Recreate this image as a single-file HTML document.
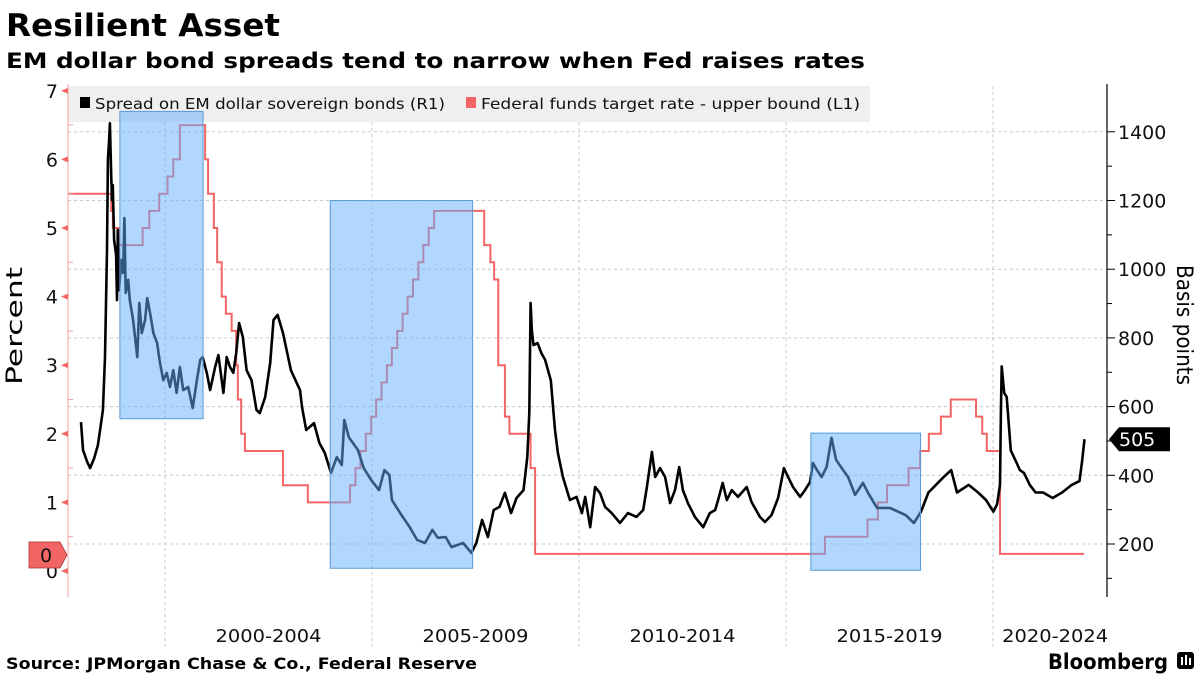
<!DOCTYPE html>
<html><head><meta charset="utf-8"><style>
body{margin:0;background:#fff;}
svg{display:block;font-family:"DejaVu Sans","Liberation Sans",sans-serif;}
</style></head><body>
<svg id="chart" width="1199" height="675" viewBox="0 0 1199 675">
<text x="6" y="36" font-size="31" font-weight="bold" fill="#000" textLength="274" lengthAdjust="spacingAndGlyphs">Resilient Asset</text>
<text x="6" y="68" font-size="21" font-weight="bold" fill="#000" textLength="859" lengthAdjust="spacingAndGlyphs">EM dollar bond spreads tend to narrow when Fed raises rates</text>
<g id="grid"></g>
<g id="legend">
<rect x="68" y="86" width="802" height="36" fill="#efefef"/>
<rect x="80" y="97" width="10" height="11" fill="#000"/>
<text x="95" y="109" font-size="15" fill="#111" textLength="350" lengthAdjust="spacingAndGlyphs">Spread on EM dollar sovereign bonds (R1)</text>
<rect x="466" y="97" width="10" height="11" fill="#f26565"/>
<text x="481" y="109" font-size="15" fill="#111" textLength="379" lengthAdjust="spacingAndGlyphs">Federal funds target rate - upper bound  (L1)</text>
</g>
<g id="series"></g>
<g id="boxes"></g>
<g id="axes"></g>
<text transform="translate(22,326) rotate(-90)" text-anchor="middle" font-size="22" fill="#000" textLength="118" lengthAdjust="spacingAndGlyphs">Percent</text>
<text transform="translate(1177,325) rotate(90)" text-anchor="middle" font-size="22" fill="#000" textLength="120" lengthAdjust="spacingAndGlyphs">Basis points</text>
<text x="6" y="669" font-size="16" font-weight="bold" fill="#000" textLength="471" lengthAdjust="spacingAndGlyphs">Source: JPMorgan Chase &amp; Co., Federal Reserve</text>
<text x="1048" y="669" font-size="21" font-weight="bold" fill="#000" textLength="120" lengthAdjust="spacingAndGlyphs">Bloomberg</text>
<g><rect x="1177" y="652" width="17" height="17" rx="3" fill="#000"/><rect x="1181" y="657" width="2" height="8" fill="#fff"/><rect x="1185" y="655" width="2" height="10" fill="#fff"/><rect x="1189" y="658" width="2" height="7" fill="#fff"/></g>
</svg>
<script>
const spreadDates=[1997.97,1998.02,1998.12,1998.19,1998.29,1998.38,1998.45,1998.50,1998.55,1998.60,1998.62,1998.65,1998.67,1998.70,1998.72,1998.74,1998.77,1998.82,1998.84,1998.86,1998.89,1998.95,1998.99,1999.02,1999.05,1999.11,1999.15,1999.23,1999.33,1999.38,1999.44,1999.52,1999.57,1999.64,1999.72,1999.81,1999.88,1999.96,2000.04,2000.12,2000.20,2000.28,2000.36,2000.44,2000.56,2000.67,2000.77,2000.85,2000.91,2001.01,2001.09,2001.21,2001.29,2001.41,2001.49,2001.57,2001.65,2001.72,2001.79,2001.88,2001.97,2002.09,2002.21,2002.29,2002.42,2002.54,2002.62,2002.72,2002.85,2003.04,2003.26,2003.31,2003.41,2003.60,2003.73,2003.86,2004.01,2004.15,2004.27,2004.33,2004.44,2004.66,2004.80,2004.98,2005.17,2005.30,2005.42,2005.48,2005.68,2005.91,2006.09,2006.28,2006.46,2006.59,2006.78,2006.92,2007.20,2007.40,2007.52,2007.66,2007.80,2007.94,2008.08,2008.21,2008.36,2008.49,2008.66,2008.75,2008.80,2008.83,2008.86,2008.90,2009.00,2009.09,2009.18,2009.32,2009.42,2009.49,2009.61,2009.78,2009.94,2010.07,2010.15,2010.27,2010.39,2010.51,2010.63,2010.79,2010.99,2011.18,2011.39,2011.55,2011.64,2011.76,2011.84,2011.96,2012.08,2012.20,2012.32,2012.42,2012.51,2012.63,2012.80,2013.00,2013.16,2013.29,2013.36,2013.47,2013.57,2013.69,2013.84,2014.05,2014.17,2014.37,2014.49,2014.65,2014.81,2014.95,2015.05,2015.17,2015.34,2015.46,2015.58,2015.65,2015.75,2015.86,2015.98,2016.10,2016.21,2016.38,2016.50,2016.67,2016.86,2016.98,2017.20,2017.51,2017.89,2018.09,2018.26,2018.44,2018.62,2018.81,2018.99,2019.13,2019.41,2019.64,2019.83,2020.01,2020.10,2020.17,2020.19,2020.21,2020.27,2020.33,2020.43,2020.56,2020.65,2020.75,2020.89,2021.03,2021.21,2021.44,2021.67,2021.90,2022.09,2022.15,2022.21];
const spreadValues=[555,474,439,421,450,488,546,590,744,1056,1318,1376,1425,1274,1201,1245,1085,1041,910,1114,939,1027,989,1149,931,969,910,852,744,902,814,852,916,872,814,785,727,677,698,657,706,640,715,648,657,596,677,736,744,698,648,715,750,640,744,715,698,756,843,803,706,677,590,581,628,727,852,867,814,706,648,599,532,552,494,465,407,453,430,561,511,474,421,386,357,415,401,328,290,249,212,203,241,218,220,191,203,174,203,270,220,299,308,349,290,334,357,453,581,902,823,779,785,756,736,677,532,465,395,328,337,290,337,249,366,348,308,290,261,290,279,299,366,468,395,421,395,319,357,424,357,319,279,249,290,299,328,378,328,357,337,366,322,279,264,284,334,421,395,366,337,357,380,436,415,395,424,509,445,415,395,343,378,349,305,305,284,261,294,350,372,395,415,350,372,350,328,294,316,372,584,717,640,628,472,439,415,407,372,350,350,334,350,372,383,439,505];
const fedDates=[1997.66,1998.70,1998.74,1998.88,1999.46,1999.62,1999.86,2000.06,2000.20,2000.36,2000.97,2001.04,2001.18,2001.26,2001.37,2001.47,2001.61,2001.72,2001.76,2001.84,2001.93,2002.85,2003.45,2004.47,2004.60,2004.72,2004.85,2004.98,2005.10,2005.23,2005.36,2005.48,2005.61,2005.74,2005.86,2005.99,2006.12,2006.24,2006.37,2006.50,2007.71,2007.86,2007.95,2008.05,2008.21,2008.32,2008.83,2008.94,2015.94,2016.97,2017.22,2017.44,2017.96,2018.24,2018.45,2018.74,2018.98,2019.59,2019.74,2019.85,2020.17];
const fedRates=[5.5,5.25,5.0,4.75,5.0,5.25,5.5,5.75,6.0,6.5,6.0,5.5,5.0,4.5,4.0,3.75,3.5,3.0,2.5,2.0,1.75,1.25,1.0,1.25,1.5,1.75,2.0,2.25,2.5,2.75,3.0,3.25,3.5,3.75,4.0,4.25,4.5,4.75,5.0,5.25,4.75,4.5,4.25,3.0,2.25,2.0,1.5,0.25,0.5,0.75,1.0,1.25,1.5,1.75,2.0,2.25,2.5,2.25,2.0,1.75,0.25];
const fedEnd=2022.20;
const boxStarts=[1998.91,2003.99,2015.60];
const boxEnds=[2000.92,2007.43,2018.25];
const boxTops=[6.7,5.4,2.01];
const boxBottoms=[2.22,0.04,0.01];
const leftTicks=[0,1,2,3,4,5,6,7];
const rightTicks=[200,400,600,800,1000,1200,1400];
const yearGrid=[2000,2005,2010,2015,2020];
const periodLabels=["2000-2004","2005-2009","2010-2014","2015-2019","2020-2024"];
const periodCenters=[2002.5,2007.5,2012.5,2017.5,2021.5];
const lastSpread=505, lastRate=0;

const NS="http://www.w3.org/2000/svg";
const X0=68,X1=1107,YT=86,YB=597;
function xs(t){return 165+(t-2000)*41.4;}
function yl(v){return 571-v*68.6;}
function yr(v){return 612.7-v*0.3435;}
function mk(tag,attrs,parent){const e=document.createElementNS(NS,tag);for(const k in attrs)e.setAttribute(k,attrs[k]);parent.appendChild(e);return e;}
const grid=document.getElementById('grid'),series=document.getElementById('series'),boxes=document.getElementById('boxes'),axes=document.getElementById('axes');

rightTicks.forEach(v=>{const l=mk('line',{x1:X0,x2:X1,y1:yr(v),y2:yr(v),stroke:'#c8c8c8','stroke-dasharray':'3,3','stroke-width':1},grid);

});
yearGrid.forEach(t=>{const l=mk('line',{x1:xs(t),x2:xs(t),y1:YT,y2:YB+50,stroke:'#c8c8c8','stroke-dasharray':'3,3','stroke-width':1},grid);

});

let d='';
fedDates.forEach((t,i)=>{const x=xs(t),y=yl(fedRates[i]);if(i===0)d+=`M${x},${y}`;else d+=`H${x}V${y}`;});
d+=`H${xs(fedEnd)}`;
const fp=mk('path',{d:d,fill:'none',stroke:'#f26565','stroke-width':2},series);



let d2='';
spreadDates.forEach((t,i)=>{d2+=(i?'L':'M')+xs(t).toFixed(1)+','+yr(spreadValues[i]).toFixed(1);});
const sp=mk('path',{d:d2,fill:'none',stroke:'#000','stroke-width':2.6,'stroke-linejoin':'round'},series);



boxStarts.forEach((s,i)=>{const x=xs(s),y=yl(boxTops[i]);
const r=mk('rect',{x:x,y:y,width:xs(boxEnds[i])-x,height:yl(boxBottoms[i])-y,fill:'rgba(100,175,255,0.5)',stroke:'#5a9ad2','stroke-width':1},boxes);

});

const la=mk('line',{x1:X0,x2:X0,y1:YT-2,y2:YB,stroke:'#f4a0a0','stroke-width':1},axes);


for(let v=0.5;v<7;v+=1){mk('line',{x1:X0,x2:X0+5,y1:yl(v),y2:yl(v),stroke:'#f4a0a0'},axes);}
leftTicks.forEach(v=>{const y=yl(v);
mk('polygon',{points:`${X0-7},${y} ${X0},${y-3} ${X0},${y+3}`,fill:'#f26565'},axes);
const t=mk('text',{x:58,y:y+7,'text-anchor':'end','font-size':19,fill:'#111'},axes);t.textContent=v;

});
const ra=mk('line',{x1:X1,x2:X1,y1:YT-2,y2:YB,stroke:'#000','stroke-width':1.2},axes);


for(let v=100;v<1500;v+=200){mk('line',{x1:X1,x2:X1+5,y1:yr(v),y2:yr(v),stroke:'#000'},axes);}
rightTicks.forEach(v=>{const y=yr(v);mk('line',{x1:X1,x2:X1+8,y1:y,y2:y,stroke:'#000'},axes);
const t=mk('text',{x:1118,y:y+7,'font-size':19,fill:'#111'},axes);t.textContent=v;

});
periodLabels.forEach((s,i)=>{const t=mk('text',{x:xs(periodCenters[i]),y:642,'text-anchor':'middle','font-size':18,fill:'#111',textLength:106,lengthAdjust:'spacingAndGlyphs'},axes);t.textContent=s;

});
const ry=yr(lastSpread);
const tg=mk('g',{},axes);


mk('polygon',{points:`${X1+2},${ry} ${X1+12},${ry-12} 1170,${ry-12} 1170,${ry+12} ${X1+12},${ry+12}`,fill:'#000'},tg);
const tt=mk('text',{x:1119,y:ry+7,'font-size':19,fill:'#fff'},tg);tt.textContent=lastSpread;
const ly=yl(lastRate)-16;
const tg2=mk('g',{},axes);


mk('polygon',{points:`29,${ly-13} 60,${ly-13} 67,${ly} 60,${ly+13} 29,${ly+13}`,fill:'#f26565',stroke:'#a33',"stroke-width":0.8},tg2);
const tt2=mk('text',{x:46,y:ly+7,'text-anchor':'middle','font-size':19,fill:'#111'},tg2);tt2.textContent=lastRate;
</script>
</body></html>
